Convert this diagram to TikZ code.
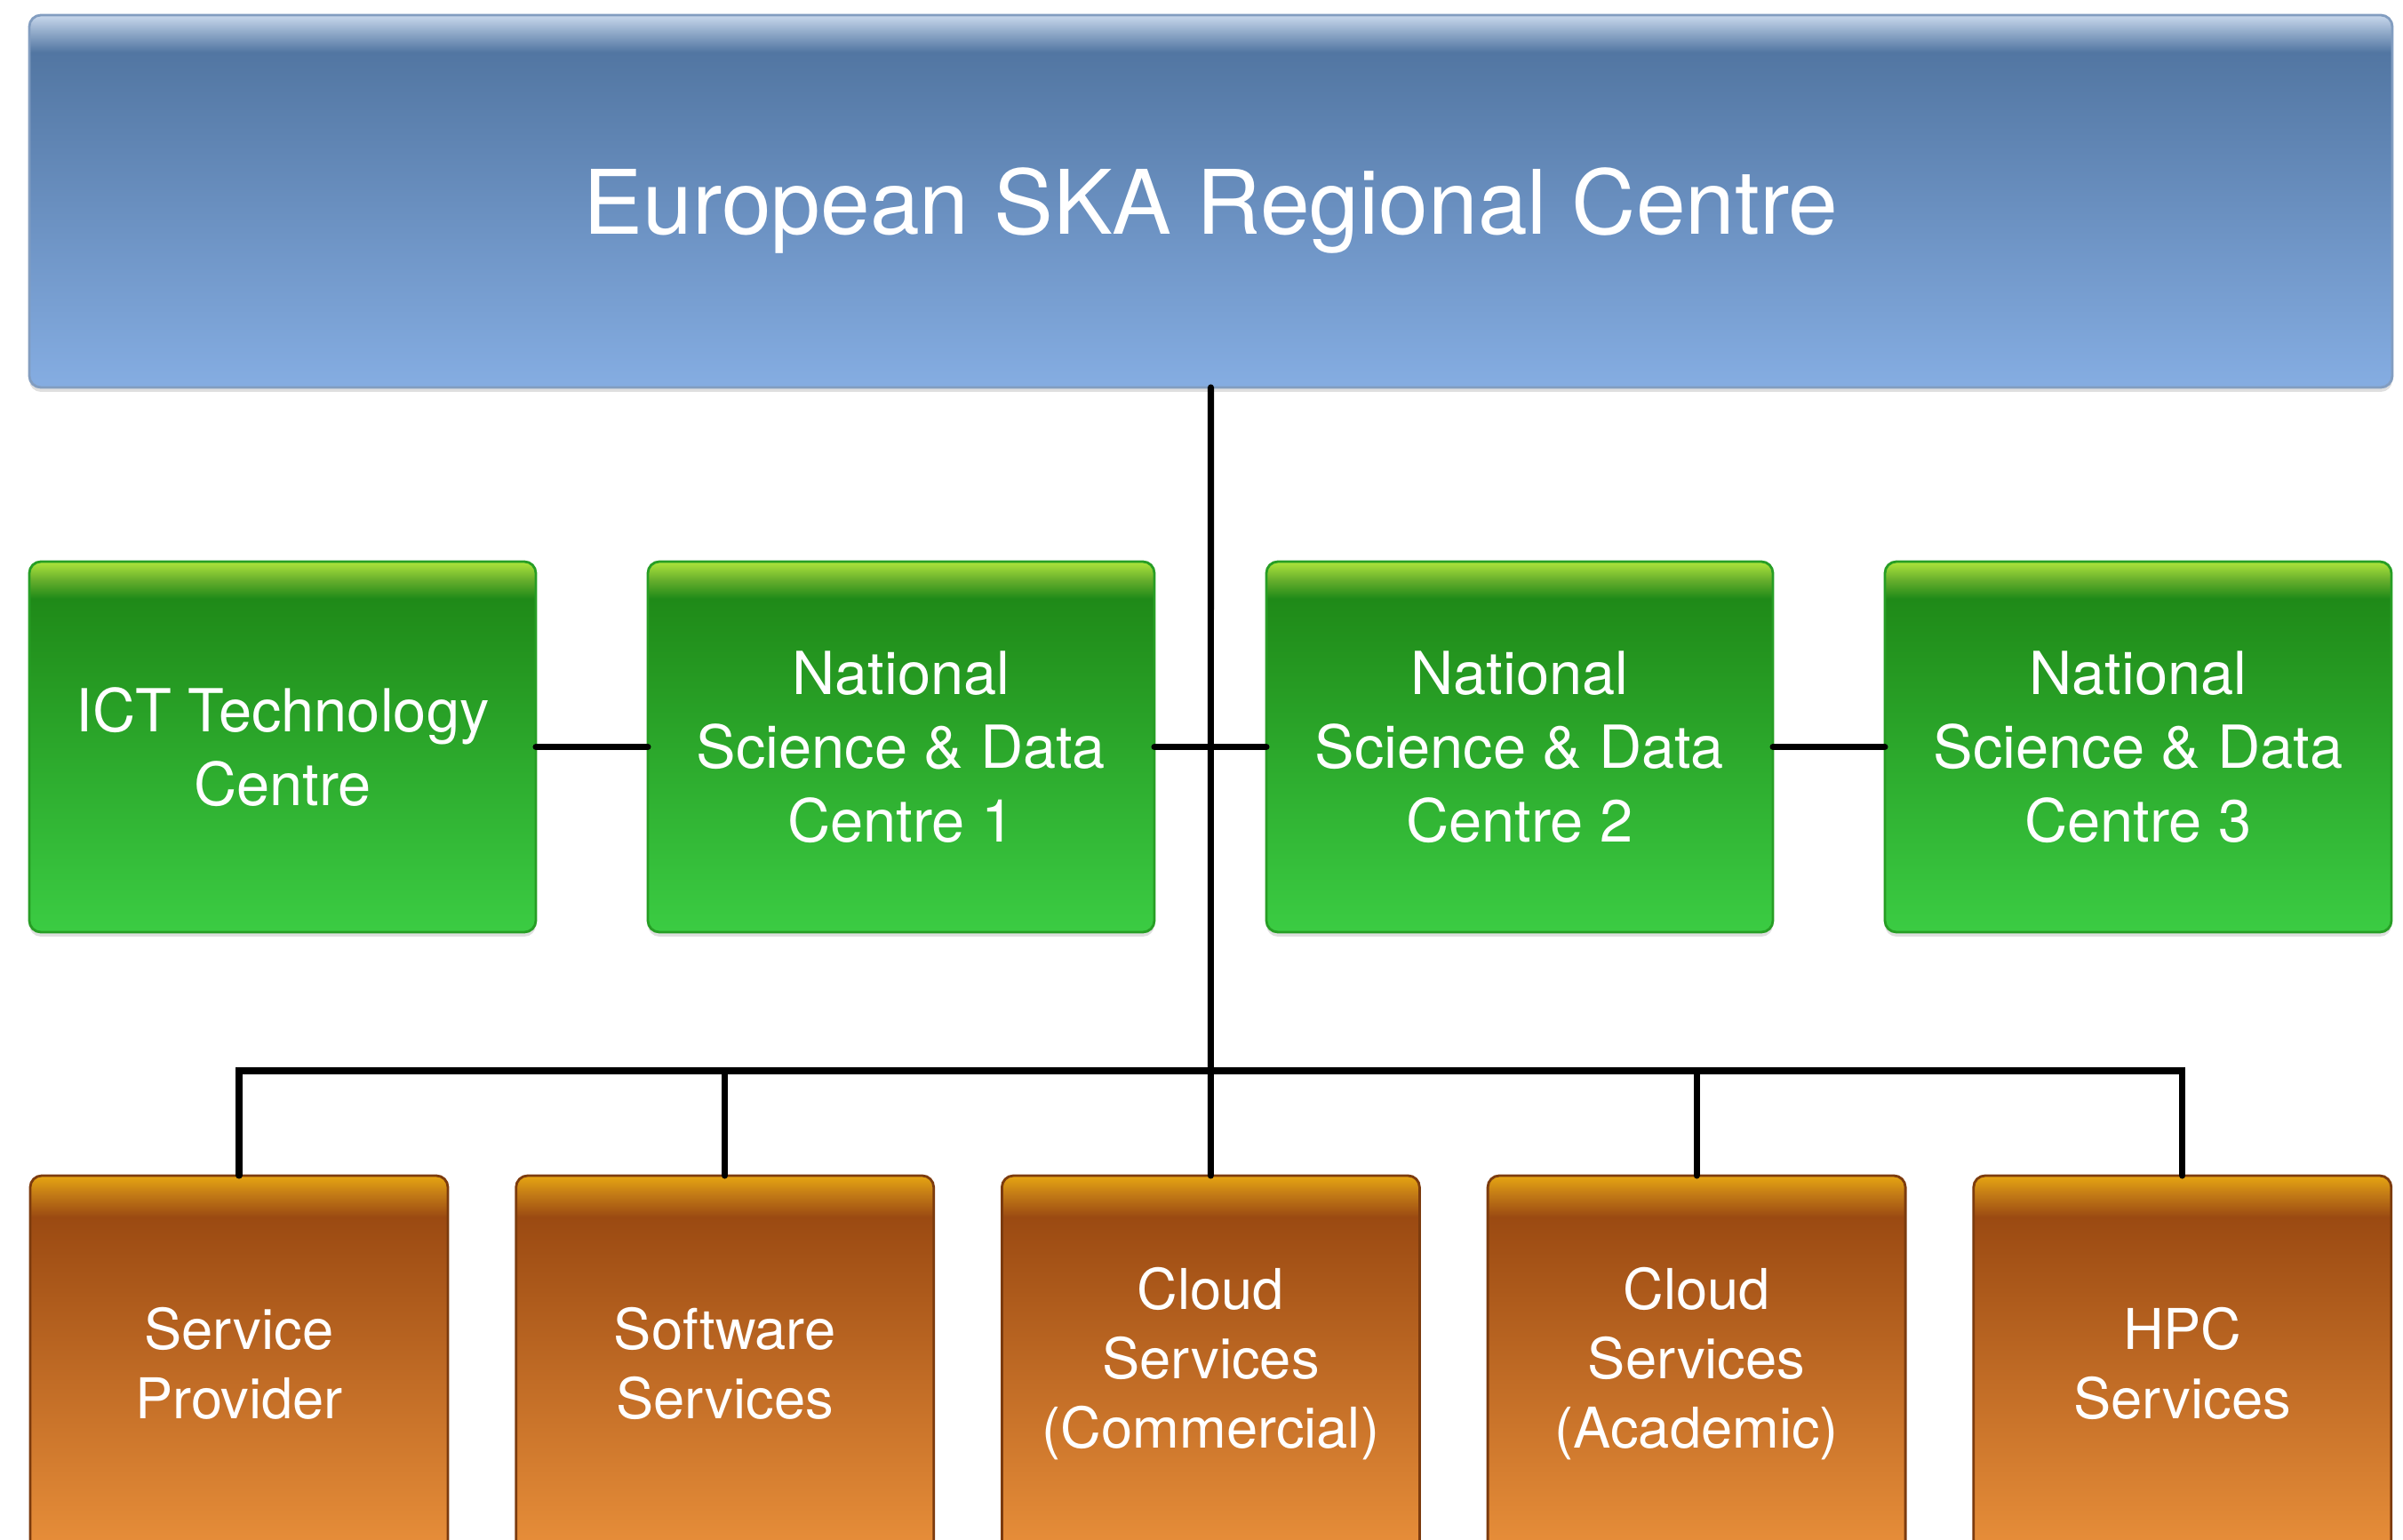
\documentclass[tikz,border=0pt]{standalone}
\usepackage{fontspec}
\setmainfont{TeX Gyre Heros}
\usetikzlibrary{positioning, shadows}
\definecolor{skaTop}{HTML}{C9D8EC}
\definecolor{skaMid}{HTML}{8CA6C6}
\definecolor{skaDark}{HTML}{5276A2}
\definecolor{skaBot}{HTML}{85ADE2}
\definecolor{nsdcTop}{HTML}{AEE53C}
\definecolor{nsdcMid}{HTML}{66AE2C}
\definecolor{nsdcDark}{HTML}{1F8A18}
\definecolor{nsdcBot}{HTML}{3BCC43}
\definecolor{svcTop}{HTML}{E6A512}
\definecolor{svcMid}{HTML}{C27A16}
\definecolor{svcDark}{HTML}{9B4A12}
\definecolor{svcBot}{HTML}{E88F3A}
\pgfdeclareverticalshading{skablue}{100bp}{color(0bp)=(skaBot); color(25bp)=(skaBot);
  color(70bp)=(skaDark); color(72.5bp)=(skaMid); color(75bp)=(skaTop); color(100bp)=(skaTop)}
\pgfdeclareverticalshading{nsdcgreen}{100bp}{color(0bp)=(nsdcBot); color(25bp)=(nsdcBot);
  color(70bp)=(nsdcDark); color(72.5bp)=(nsdcMid); color(75bp)=(nsdcTop); color(100bp)=(nsdcTop)}
\pgfdeclareverticalshading{svcorange}{100bp}{color(0bp)=(svcBot); color(25bp)=(svcBot);
  color(69.5bp)=(svcDark); color(72.5bp)=(svcMid); color(75bp)=(svcTop); color(100bp)=(svcTop)}
\tikzset{
  box/.style = {align=center, inner sep=0pt, outer sep=0pt, text=white,
    rounded corners=0.13cm, line width=0.8pt,
    drop shadow={shadow xshift=0pt, shadow yshift=-0.05cm, opacity=0.25}},
  ska/.style = {box, draw=skaTop!40!skaDark, shading=skablue,
    minimum width=26.59cm, minimum height=4.19cm, text depth=0pt,
    font=\fontsize{28.5}{34}\selectfont},
  nsdc/.style = {box, draw=nsdcDark!70!nsdcBot, shading=nsdcgreen,
    minimum width=5.70cm, minimum height=4.17cm,
    font=\fontsize{19}{23.6}\selectfont},
  svc/.style = {box, draw=svcDark!80!black, shading=svcorange,
    minimum width=4.70cm, minimum height=4.23cm,
    font=\fontsize{18}{22.2}\selectfont},
  link/.style = {draw=black, line width=2pt, line cap=round}
}
\begin{document}
\begin{tikzpicture}
\clip (0,0) rectangle (27.04,-17.33);
\node [ska] (ska) at (13.625,-2.265) {European SKA Regional Centre};

\node [nsdc] (ict) at (3.18,-8.405) {ICT Technology\\Centre};
\node [nsdc, right=1.26cm of ict] (nsdc1) {National\\Science \& Data\\Centre 1};
\node [nsdc, right=1.26cm of nsdc1] (nsdc2) {National\\Science \& Data\\Centre 2};
\node [nsdc, right=1.26cm of nsdc2] (nsdc3) {National\\Science \& Data\\Centre 3};

\node [svc] (prov) at (2.69,-15.345) {Service\\Provider};
\node [svc, right=0.767cm of prov] (soft) {Software\\Services};
\node [svc, right=0.767cm of soft] (cloudc) {Cloud\\Services\\(Commercial)};
\node [svc, right=0.767cm of cloudc] (clouda) {Cloud\\Services\\(Academic)};
\node [svc, right=0.767cm of clouda] (hpc) {HPC\\Services};

\coordinate (bus) at (13.625,-12.05);
\draw [link] (ict) -- (nsdc1);
\draw [link] (nsdc1) -- (nsdc2);
\draw [link] (nsdc2) -- (nsdc3);
\draw [link] (ska.south) -- (cloudc.north);
\draw [link] (prov.north) -- (prov.north |- bus) -- (hpc.north |- bus) -- (hpc.north);
\draw [link] (soft.north) -- (soft.north |- bus);
\draw [link] (clouda.north) -- (clouda.north |- bus);
\end{tikzpicture}
\end{document}
